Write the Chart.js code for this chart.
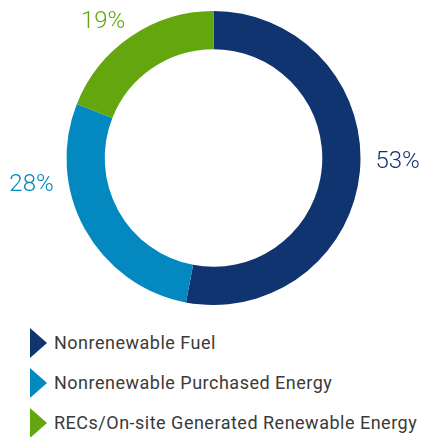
<!DOCTYPE html>
<html>
<head>
<meta charset="utf-8">
<script src="https://cdn.jsdelivr.net/npm/chart.js@4/dist/chart.umd.min.js"></script>
<style>
  html, body { margin: 0; padding: 0; background: #fff; }
  body { width: 424px; height: 437px; position: relative; overflow: hidden; font-family: Roboto, sans-serif; }
  #wrap { position: absolute; left: 0; top: 0; width: 424px; height: 316px; }
  #legend { position: absolute; left: 30px; top: 327px; }
  .row { display: flex; align-items: center; height: 31px; margin-bottom: 9px; }
  .tri { width: 0; height: 0; border-top: 15.5px solid transparent; border-bottom: 15.5px solid transparent; border-left: 17px solid; margin-right: 7px; }
  .txt { font-size: 18px; letter-spacing: 0.5px; color: #3a3a3a; white-space: nowrap; }
</style>
</head>
<body>
<div id="wrap"><canvas id="energyMix"></canvas></div>
<div id="legend"></div>
<script>
const categories = ['Nonrenewable Fuel', 'Nonrenewable Purchased Energy', 'RECs/On-site Generated Renewable Energy'];
const shares = [53, 28, 19];
const sliceColors = ['#0f346f', '#0389bf', '#63a60d'];

// label angle (deg, canvas convention) per slice, set by eye
const labelAngles = [1.5, 170.5, 237];

const outsideLabels = {
    id: 'outsideLabels',
    afterDatasetsDraw(chart) {
        const ctx = chart.ctx;
        const meta = chart.getDatasetMeta(0);
        ctx.save();
        ctx.font = '300 24px Roboto';
        ctx.textBaseline = 'middle';
        meta.data.forEach((arc, i) => {
            const a = labelAngles[i] * Math.PI / 180;
            const r = arc.outerRadius + 15;
            const x = arc.x + Math.cos(a) * r;
            const y = arc.y + Math.sin(a) * r;
            ctx.textAlign = Math.cos(a) >= 0 ? 'left' : 'right';
            ctx.fillStyle = sliceColors[i];
            ctx.fillText(chart.data.datasets[0].data[i] + '%', x, y);
        });
        ctx.restore();
    }
};

new Chart(document.getElementById('energyMix'), {
    type: 'doughnut',
    data: {
        labels: categories,
        datasets: [{ data: shares, backgroundColor: sliceColors, borderWidth: 0 }]
    },
    options: {
        responsive: true,
        maintainAspectRatio: false,
        animation: false,
        cutout: '74%',
        layout: { padding: { top: 11, bottom: 11, left: 3, right: 0 } },
        plugins: { legend: { display: false }, tooltip: { enabled: false } }
    },
    plugins: [outsideLabels]
});

const legendEl = document.getElementById('legend');
categories.forEach((name, i) => {
    const row = document.createElement('div');
    row.className = 'row';
    row.innerHTML = `<div class="tri" style="border-left-color:${sliceColors[i]}"></div><div class="txt">${name}</div>`;
    legendEl.appendChild(row);
});
</script>
</body>
</html>
